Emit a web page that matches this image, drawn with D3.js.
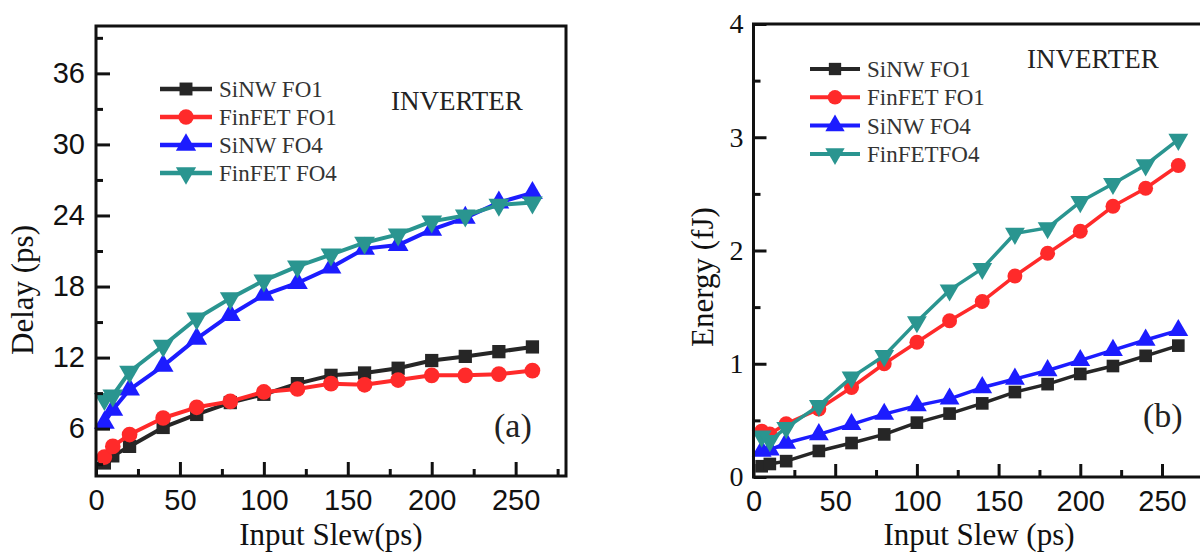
<!DOCTYPE html>
<html><head><meta charset="utf-8">
<script src="https://cdn.jsdelivr.net/npm/d3@7"></script>
<style>body{margin:0;background:#fff} svg{display:block}</style>
</head><body>
<svg id="c" width="1200" height="556"></svg>
<script>
// ---- data ----
const slew = [5,10,20,40,60,80,100,120,140,160,180,200,220,240,260];
const delaySiNWFO1   = [3.1,3.7,4.5,6.1,7.2,8.2,8.9,9.8,10.5,10.7,11.1,11.75,12.1,12.5,12.9];
const delayFinFETFO1 = [3.6,4.5,5.5,6.9,7.8,8.3,9.1,9.35,9.8,9.7,10.1,10.5,10.5,10.6,10.9];
const delaySiNWFO4   = [6.5,7.6,9.3,11.3,13.6,15.6,17.3,18.3,19.6,21.2,21.5,22.8,23.8,25.1,25.9];
const delayFinFETFO4 = [8.5,8.8,10.8,13.0,15.3,17.0,18.5,19.7,20.7,21.7,22.4,23.5,24.0,24.9,25.1];
const energySiNWFO1   = [0.095,0.115,0.14,0.23,0.30,0.376,0.48,0.56,0.65,0.75,0.82,0.91,0.98,1.07,1.16];
const energyFinFETFO1 = [0.405,0.38,0.47,0.60,0.79,1.0,1.19,1.38,1.55,1.775,1.975,2.17,2.39,2.55,2.75];
const energySiNWFO4   = [0.23,0.24,0.30,0.376,0.465,0.555,0.63,0.69,0.79,0.865,0.94,1.03,1.12,1.21,1.295];
const energyFinFETFO4 = [0.36,0.32,0.435,0.63,0.88,1.07,1.37,1.65,1.84,2.15,2.2,2.43,2.59,2.755,2.98];
const namesA = ["SiNW FO1","FinFET FO1","SiNW FO4","FinFET FO4"];
const namesB = ["SiNW FO1","FinFET FO1","SiNW FO4","FinFETFO4"];
const slewTicks = [0,50,100,150,200,250];
const slewMinor = [25,75,125,175,225,275];
const delayTicks = [6,12,18,24,30,36];
const delayMinor = [3,9,15,21,27,33,39];
const energyTicks = [0,1,2,3,4];
const energyMinor = [0.5,1.5,2.5,3.5];

const colors = ["#262626","#ff2a2a","#1c1cff","#2a9590"];
const shapes = ["square","circle","up","down"];

const svg = d3.select("#c");
const SANS = "'Liberation Sans', Arial, sans-serif";
const SERIF = "'Liberation Serif', 'Times New Roman', serif";

function marker(g, shape, color, x, y, scale) {
  const sizes = {square:160*scale, circle:175*scale, up:170*scale, down:170*scale};
  const type = shape==="square"?d3.symbolSquare:shape==="circle"?d3.symbolCircle:d3.symbolTriangle;
  g.append("path").attr("d", d3.symbol().type(type).size(sizes[shape])())
    .attr("transform", `translate(${x},${y})` + (shape==="down"?" rotate(180)":""))
    .attr("fill", color);
}

function panel(opt) {
  const x = d3.scaleLinear().domain([0,280]).range(opt.xr);
  const y = d3.scaleLinear().domain(opt.yd).range(opt.yr);
  const g = svg.append("g");
  opt.series.forEach((vals, i) => {
    const line = d3.line().x((d,j)=>x(slew[j])).y(d=>y(d));
    g.append("path").datum(vals).attr("d", line).attr("fill","none")
      .attr("stroke", colors[i]).attr("stroke-width", opt.lw).attr("stroke-linejoin","round");
    vals.forEach((v,j)=> marker(g, shapes[i], colors[i], x(slew[j]), y(v), opt.ms));
  });
  // axes
  const ax = g.append("g").attr("transform", `translate(0,${opt.yr[0]})`)
    .call(d3.axisBottom(x).tickValues(slewTicks).tickSize(-opt.tkMaj).tickPadding(13).tickFormat(d3.format("d")));
  ax.select(".domain").remove();
  ax.selectAll("line").attr("stroke","#111").attr("stroke-width",3);
  ax.selectAll("text").attr("font-family", SANS).attr("font-size", 29).attr("fill","#111");
  const axm = g.append("g").attr("transform", `translate(0,${opt.yr[0]})`)
    .call(d3.axisBottom(x).tickValues(slewMinor).tickSize(-opt.tkMin).tickFormat(""));
  axm.select(".domain").remove();
  axm.selectAll("line").attr("stroke","#111").attr("stroke-width",3);

  const ay = g.append("g").attr("transform", `translate(${opt.xr[0]},0)`)
    .call(d3.axisLeft(y).tickValues(opt.yTicks).tickSize(-opt.tkMaj).tickPadding(opt.yPad).tickFormat(d3.format("d")));
  ay.select(".domain").remove();
  ay.selectAll("line").attr("stroke","#111").attr("stroke-width",3);
  ay.selectAll("text").attr("font-family", opt.yFont).attr("font-size", opt.yFs).attr("fill","#111");
  const aym = g.append("g").attr("transform", `translate(${opt.xr[0]},0)`)
    .call(d3.axisLeft(y).tickValues(opt.yMinor).tickSize(-opt.tkMin).tickFormat(""));
  aym.select(".domain").remove();
  aym.selectAll("line").attr("stroke","#111").attr("stroke-width",3);

  g.append("rect").attr("x",opt.xr[0]).attr("y",opt.yr[1])
    .attr("width",opt.xr[1]-opt.xr[0]).attr("height",opt.yr[0]-opt.yr[1])
    .attr("fill","none").attr("stroke","#111").attr("stroke-width",3);

  // legend
  const lg = g.append("g");
  opt.names.forEach((n,i)=>{
    const yy = opt.leg.y0 + i*opt.leg.dy;
    lg.append("line").attr("x1",opt.leg.x1).attr("x2",opt.leg.x2).attr("y1",yy).attr("y2",yy)
      .attr("stroke",colors[i]).attr("stroke-width",opt.lw+0.5);
    marker(lg, shapes[i], colors[i], (opt.leg.x1+opt.leg.x2)/2, yy, opt.ms*0.95);
    lg.append("text").attr("x",opt.leg.tx).attr("y",yy+8).text(n)
      .attr("font-family",SERIF).attr("font-size",23).attr("fill","#333");
  });
  g.append("text").attr("x",opt.inv[0]).attr("y",opt.inv[1]).text("INVERTER")
    .attr("font-family",SERIF).attr("font-size",27).attr("fill","#222");
  g.append("text").attr("x",opt.tag[0]).attr("y",opt.tag[1]).text(opt.tag[2])
    .attr("font-family",SERIF).attr("font-size",34).attr("fill","#222");
  g.append("text").attr("x",opt.xt[0]).attr("y",opt.xt[1]).attr("text-anchor","middle").text(opt.xt[2])
    .attr("font-family",SERIF).attr("font-size",31).attr("fill","#111");
  g.append("text").attr("transform",`translate(${opt.yt[0]},${opt.yt[1]}) rotate(-90)`)
    .attr("text-anchor","middle").text(opt.yt[2])
    .attr("font-family",SERIF).attr("font-size",31).attr("fill","#111");
}

panel({
  xr:[96,566], yr:[476,26], yd:[2,40],
  series:[delaySiNWFO1, delayFinFETFO1, delaySiNWFO4, delayFinFETFO4],
  lw:4, ms:1.1, tkMaj:14, tkMin:7,
  yTicks:delayTicks, yMinor:delayMinor, yPad:11, yFont:SANS, yFs:29,
  names:namesA, leg:{x1:160,x2:212,y0:89,dy:28,tx:219},
  inv:[391,110], tag:[494,437,"(a)"],
  xt:[331,545,"Input Slew(ps)"], yt:[33,290,"Delay (ps)"]
});
panel({
  xr:[753.5,1211], yr:[477,24], yd:[0,4],
  series:[energySiNWFO1, energyFinFETFO1, energySiNWFO4, energyFinFETFO4],
  lw:3.5, ms:1.0, tkMaj:13, tkMin:7,
  yTicks:energyTicks, yMinor:energyMinor, yPad:10, yFont:SERIF, yFs:28,
  names:namesB, leg:{x1:810,x2:860,y0:69,dy:28.3,tx:867},
  inv:[1027,68], tag:[1143,427,"(b)"],
  xt:[979,545,"Input Slew (ps)"], yt:[713,277,"Energy (fJ)"]
});
</script>
</body></html>
